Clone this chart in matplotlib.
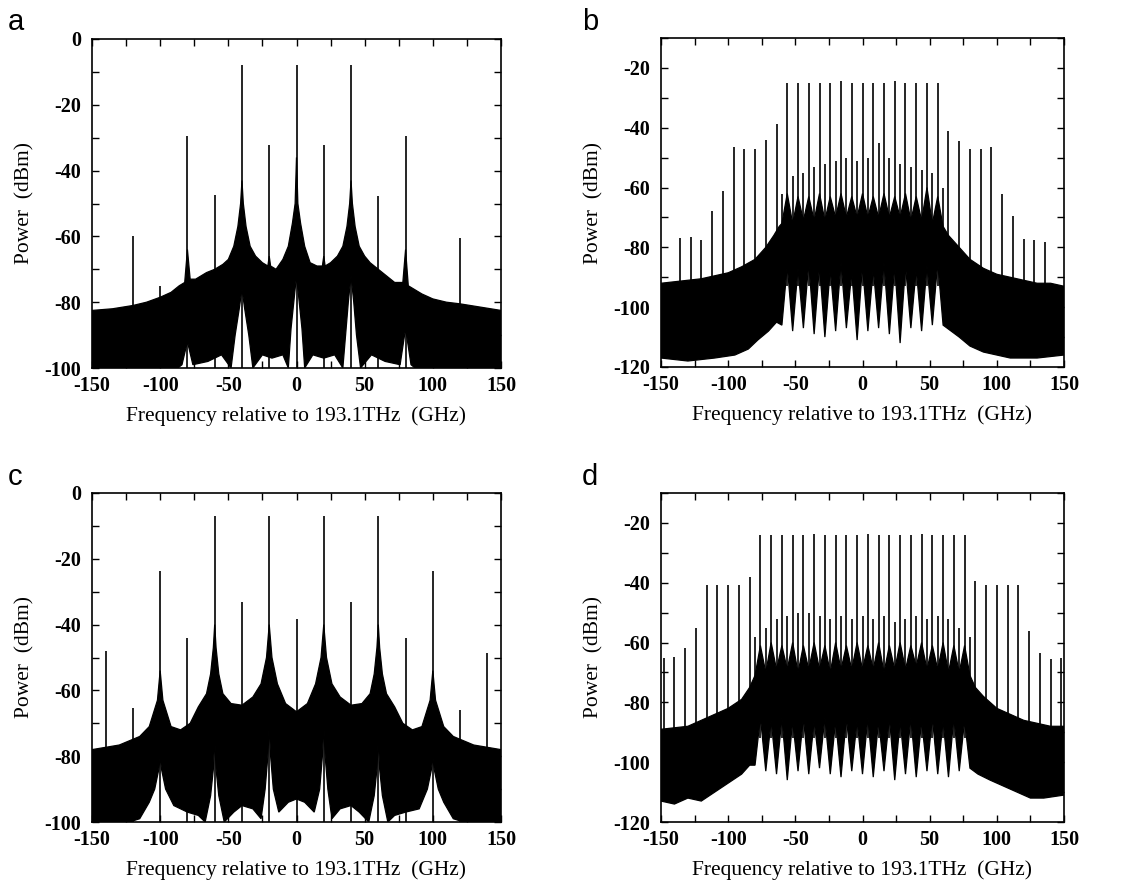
import numpy as np
import matplotlib
matplotlib.use("Agg")
import matplotlib.pyplot as plt
from matplotlib.ticker import MultipleLocator, FuncFormatter

# ---------------- data ----------------
x_label = "Frequency relative to 193.1THz  (GHz)"
y_label = "Power  (dBm)"
panel_letters = ["a", "b", "c", "d"]

# Panel a
a_spk_f = [-120, -100, -80, -60, -40, -20, 0, 20, 40, 60, 80, 100, 120]
a_spk_v = [-60, -75, -29.5, -47.5, -8, -32.3, -8, -32.3, -8, -47.8, -29.5, -79, -60.5]
a_up_f = [-150, -135, -120, -110, -100, -92, -86, -82, -80, -78, -74, -66, -60, -54, -50, -46, -43, -41, -40, -39,
          -37, -34, -30, -25, -21, -20, -19, -15, -10, -6, -3, -1, 0, 1, 3, 6, 10, 15, 19, 20,
          21, 25, 30, 34, 37, 39, 40, 41, 43, 46, 50, 54, 60, 66, 72, 78, 80, 82, 86, 92,
          100, 110, 120, 135, 150]
a_up_v = [-82.5, -82, -81, -80, -78.5, -77, -75, -74, -64, -73, -73, -71, -70, -68.5, -67, -63, -57, -50, -43, -50,
          -57, -63, -66, -68, -69, -66, -69, -70, -67, -63, -56, -50, -36, -50, -56, -63, -68, -69, -69, -66,
          -69, -68, -66, -63, -57, -50, -43, -50, -57, -63, -66, -68, -70, -72, -74, -74, -64, -75, -76, -77.5,
          -79, -80, -80.5, -81.5, -82.5]
a_lo_f = [-150, -90, -84, -80, -76, -65, -55, -48, -45, -42, -40, -38, -35, -32, -25, -18, -10, -6, -4, -2,
          0, 2, 4, 6, 12, 20, 28, 34, 36, 38, 40, 42, 44, 47, 55, 65, 76, 80, 84, 90, 150]
a_lo_v = [-101, -101, -99, -92, -99, -98, -96, -100, -90, -82, -76, -82, -90, -100, -96, -97, -96, -100, -88, -80,
          -72, -80, -88, -100, -96, -97, -96, -100, -90, -80, -72, -80, -90, -100, -96, -98, -99, -88, -99, -101, -101]

# Panel b
b_main_f = [-56, -48, -40, -32, -24, -16, -8, 0, 8, 16, 24, 32, 40, 48, 56]
b_main_v = [-25, -25, -25, -25, -25, -24.5, -25, -25, -25, -25, -24.5, -25, -25, -25, -25]
b_out_f = [-136, -128, -120, -112, -104, -96, -88, -80, -72, -64, 64, 72, 80, 88, 96, 104, 112, 120, 128, 136]
b_out_v = [-76.8, -76.4, -77.5, -67.7, -61, -46.6, -47, -47, -44.2, -38.8,
           -41, -44.4, -47, -47, -46.6, -62, -69.5, -77.3, -77.5, -78.3]
b_sec_f = [-60, -52, -44, -36, -28, -20, -12, -4, 4, 12, 20, 28, 36, 44, 52, 60]
b_sec_v = [-62, -56, -55, -53, -52, -51, -50, -51, -50, -45, -50, -52, -53, -54, -55, -60]
b_up_f = [-150, -140, -130, -120, -110, -100, -90, -80, -72, -66, -62,
          -60, -56, -52, -48, -44, -40, -36, -32, -28, -24, -20, -16, -12, -8, -4, 0,
          4, 8, 12, 16, 20, 24, 28, 32, 36, 40, 44, 48, 52, 56, 60,
          64, 70, 80, 90, 100, 110, 120, 130, 140, 150]
b_up_v = [-92, -91.5, -91, -90.5, -89.5, -88.5, -86.5, -84, -80, -76, -73,
          -72, -62, -72, -63, -71, -63, -71, -62, -71, -63, -70, -62, -70, -63, -70, -62,
          -70, -63, -70, -62, -70, -63, -70, -62, -71, -63, -71, -60, -72, -63, -73,
          -76, -79, -84, -87, -89, -90, -91, -92, -92, -93]
b_lo_f = [-150, -130, -110, -95, -85, -78, -70, -64,
          -60, -56, -52, -48, -44, -40, -36, -32, -28, -24, -20, -16, -12, -8, -4, 0,
          4, 8, 12, 16, 20, 24, 28, 32, 36, 40, 44, 48, 52, 56, 60,
          66, 72, 80, 90, 110, 130, 150]
b_lo_v = [-117, -118, -117, -116, -114, -111, -108, -105,
          -106, -86, -108, -87, -107, -85, -109, -86, -110, -87, -108, -85, -107, -88, -111, -86,
          -108, -87, -107, -85, -109, -86, -112, -86, -107, -87, -108, -86, -106, -85, -106,
          -108, -110, -113, -115, -117, -117, -116]

# Panel c
c_spk_f = [-140, -120, -100, -80, -60, -40, -20, 0, 20, 40, 60, 80, 100, 120, 140]
c_spk_v = [-48, -65.5, -23.6, -44.2, -7, -33, -7, -38.4, -7, -33, -7, -44.2, -23.6, -66, -48.5]
c_up_f = [-150, -130, -115, -108, -102, -100, -98, -92, -85, -78, -72, -66, -63, -61, -60, -59, -57, -54, -48, -40,
          -32, -26, -22, -20, -18, -14, -8, 0, 8, 14, 18, 20, 22, 26, 32, 40, 48, 54, 57, 59,
          60, 61, 63, 66, 72, 78, 85, 92, 98, 100, 102, 108, 115, 130, 150]
c_up_v = [-78, -76.6, -74, -71, -63, -54, -63, -71, -72, -70, -65, -61, -55, -47, -40, -47, -55, -61, -64, -64.5,
          -62, -58, -50, -40, -50, -58, -64, -66.5, -64, -58, -50, -40, -50, -58, -62, -64.5, -64, -61, -55, -47,
          -40, -47, -55, -61, -65, -70, -72, -71, -63, -54, -63, -71, -74, -76.6, -78]
c_lo_f = [-150, -130, -115, -108, -104, -101, -100, -99, -96, -90, -80, -72, -67, -63, -61, -60, -59, -57, -53, -46,
          -40, -32, -26, -23, -21, -20, -19, -17, -13, -6, 0, 6, 13, 17, 19, 20, 21, 23, 26, 32,
          40, 46, 53, 57, 59, 60, 61, 63, 67, 72, 80, 90, 96, 99, 100, 101, 104, 108, 115, 130, 150]
c_lo_v = [-101, -101, -99, -94, -90, -84, -80, -84, -90, -95, -97, -98, -100, -92, -84, -74, -84, -92, -100, -97,
          -95, -96, -99, -90, -80, -70, -80, -90, -97, -94, -93, -94, -97, -90, -80, -70, -80, -90, -99, -96,
          -95, -97, -100, -92, -84, -74, -84, -92, -100, -98, -97, -96, -90, -84, -80, -84, -90, -94, -99, -101, -101]

# Panel d
d_main_f = [-76, -68, -60, -52, -44, -36, -28, -20, -12, -4, 4, 12, 20, 28, 36, 44, 52, 60, 68, 76]
d_main_v = [-24, -24, -24, -24, -24, -23.8, -24, -24, -24, -24, -23.8, -24, -24, -24, -24, -23.8, -24, -24, -24, -24]
d_out_f = [-148, -140, -132, -124, -116, -108, -100, -92, -84, 84, 92, 100, 108, 116, 124, 132, 140, 148]
d_out_v = [-65.3, -64.9, -61.7, -55.2, -40.8, -40.9, -40.9, -40.9, -38.1,
           -39.3, -40.9, -40.9, -40.9, -40.9, -56, -63.6, -65.5, -65]
d_sec_f = [-80, -72, -64, -56, -48, -40, -32, -24, -16, -8, 0, 8, 16, 24, 32, 40, 48, 56, 64, 72, 80]
d_sec_v = [-58, -55, -52, -51, -50, -50, -51, -52, -51, -52, -51, -52, -51, -53, -52, -51, -52, -51, -52, -55, -58]
d_up_f = [-150, -140, -130, -120, -110, -100, -90, -84,
          -80, -76, -72, -68, -64, -60, -56, -52, -48, -44, -40, -36, -32, -28, -24, -20, -16, -12, -8, -4, 0,
          4, 8, 12, 16, 20, 24, 28, 32, 36, 40, 44, 48, 52, 56, 60, 64, 68, 72, 76, 80,
          84, 90, 100, 110, 120, 130, 140, 150]
d_up_v = [-89, -88.5, -88, -86, -84, -82, -79, -75,
          -71, -61, -70, -60, -69, -61, -69, -60, -70, -61, -69, -60, -69, -61, -70, -60, -69, -61, -69, -60, -69,
          -61, -69, -60, -70, -61, -69, -60, -69, -61, -68, -60, -69, -61, -69, -60, -70, -61, -70, -61, -71,
          -75, -78, -82, -84, -86, -87, -88, -88]
d_lo_f = [-150, -140, -130, -120, -110, -100, -90, -84,
          -80, -76, -72, -68, -64, -60, -56, -52, -48, -44, -40, -36, -32, -28, -24, -20, -16, -12, -8, -4, 0,
          4, 8, 12, 16, 20, 24, 28, 32, 36, 40, 44, 48, 52, 56, 60, 64, 68, 72, 76, 80,
          86, 95, 105, 115, 125, 135, 150]
d_lo_v = [-113, -114, -112, -113, -110, -107, -104, -101,
          -101, -85, -103, -86, -104, -85, -106, -86, -103, -85, -104, -86, -102, -85, -104, -86, -105, -85, -103, -86, -104,
          -85, -105, -86, -103, -85, -106, -86, -104, -85, -105, -86, -103, -85, -104, -86, -105, -85, -103, -86, -102,
          -104, -106, -108, -110, -112, -112, -111]

# ---------------- figure ----------------
W, H = 1131, 882
fig = plt.figure(figsize=(W / 100, H / 100), dpi=100)
serif = "Liberation Serif"
sans = "Liberation Sans"

def ax_at(l, t, r, b):
    return fig.add_axes([l / W, 1 - b / H, (r - l) / W, (b - t) / H])

panels = [
    dict(box=(92, 39, 501, 368), ylim=(-100, 0),
         up=(a_up_f, a_up_v), lo=(a_lo_f, a_lo_v),
         spikes=[(a_spk_f, a_spk_v)], base=None, letter_xy=(8, 30)),
    dict(box=(661, 38, 1064, 367), ylim=(-120, -10),
         up=(b_up_f, b_up_v), lo=(b_lo_f, b_lo_v),
         spikes=[(b_main_f, b_main_v), (b_out_f, b_out_v), (b_sec_f, b_sec_v)], base=-93, letter_xy=(582, 30)),
    dict(box=(92, 493, 501, 822), ylim=(-100, 0),
         up=(c_up_f, c_up_v), lo=(c_lo_f, c_lo_v),
         spikes=[(c_spk_f, c_spk_v)], base=None, letter_xy=(8, 485)),
    dict(box=(661, 493, 1064, 822), ylim=(-120, -10),
         up=(d_up_f, d_up_v), lo=(d_lo_f, d_lo_v),
         spikes=[(d_main_f, d_main_v), (d_out_f, d_out_v), (d_sec_f, d_sec_v)], base=-92, letter_xy=(582, 485)),
]

fmt = FuncFormatter(lambda v, _: f"{v:g}")

for p, letter in zip(panels, panel_letters):
    ax = ax_at(*p["box"])
    uf, uv = (np.asarray(v, float) for v in p["up"])
    lf, lv = (np.asarray(v, float) for v in p["lo"])
    assert len(uf) == len(uv) and len(lf) == len(lv)
    poly_x = np.concatenate([uf, lf[::-1]])
    poly_y = np.concatenate([uv, lv[::-1]])
    ax.fill(poly_x, poly_y, color="black", lw=0.9, zorder=2)
    ymin = p["ylim"][0] if p["base"] is None else p["base"]
    for sf, sv in p["spikes"]:
        assert len(sf) == len(sv)
        ax.vlines(sf, ymin, sv, colors="black", lw=1.2, zorder=3)
    ax.set_xlim(-150, 150)
    ax.set_ylim(*p["ylim"])
    ax.xaxis.set_major_locator(MultipleLocator(50))
    ax.xaxis.set_minor_locator(MultipleLocator(25))
    ax.yaxis.set_major_locator(MultipleLocator(20))
    ax.yaxis.set_minor_locator(MultipleLocator(10))
    ax.xaxis.set_major_formatter(fmt)
    ax.yaxis.set_major_formatter(fmt)
    ax.tick_params(which="both", direction="in", top=True, right=True, width=1.0, length=5)
    ax.tick_params(axis="x", pad=6)
    ax.tick_params(axis="y", pad=8)
    for lab in ax.get_xticklabels() + ax.get_yticklabels():
        lab.set_fontfamily(serif)
        lab.set_fontweight("bold")
        lab.set_fontsize(14.5)
    for s in ax.spines.values():
        s.set_linewidth(1.2)
    ax.set_xlabel(x_label, fontfamily=serif, fontsize=15.5, labelpad=7)
    ax.set_ylabel(y_label, fontfamily=serif, fontsize=15.5, labelpad=7)
    lx, ly = p["letter_xy"]
    fig.text(lx / W, 1 - ly / H, letter, fontfamily=sans, fontsize=21, ha="left", va="baseline")

fig.savefig("out.png", dpi=100)
